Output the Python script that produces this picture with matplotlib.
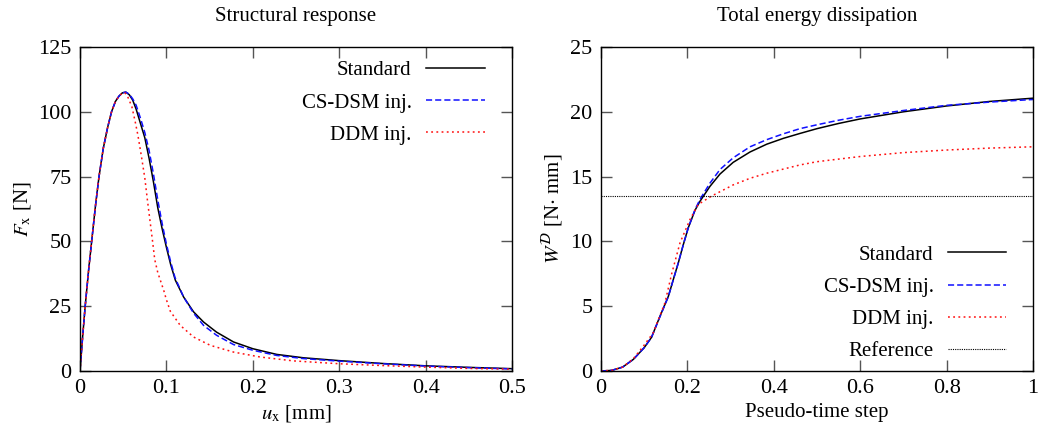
import matplotlib
matplotlib.use("Agg")
import matplotlib.pyplot as plt

plt.rcParams['font.family'] = ['Liberation Serif', 'DejaVu Serif']
plt.rcParams['mathtext.fontset'] = 'stix'
plt.rcParams['font.size'] = 15

# structural response (force vs displacement)
ux_std = [0, 0.003, 0.006, 0.01, 0.0135, 0.018, 0.022, 0.027, 0.032, 0.0365, 0.041, 0.045,
          0.049, 0.053, 0.057, 0.061, 0.065, 0.07, 0.075, 0.08, 0.085, 0.09, 0.095, 0.1,
          0.105, 0.1104, 0.12, 0.1315, 0.143, 0.158, 0.1777, 0.2, 0.2277, 0.2585, 0.3,
          0.35, 0.4, 0.45, 0.5]
fx_std = [0, 13, 25, 39, 50, 64, 75, 86, 94, 100, 104, 106, 107.3, 107.6, 106.6, 104.5, 101,
          95.5, 90, 82, 73, 63, 55, 47.7, 41, 35, 28.5, 22.8, 18.9, 15.0, 11.2, 8.6, 6.4,
          5.1, 4.0, 2.9, 2.0, 1.4, 0.9]

ux_cs = [0, 0.003, 0.006, 0.01, 0.0135, 0.018, 0.022, 0.027, 0.032, 0.0365, 0.041, 0.045,
         0.049, 0.053, 0.057, 0.061, 0.065, 0.07, 0.075, 0.08, 0.085, 0.09, 0.095, 0.1,
         0.105, 0.11, 0.12, 0.1315, 0.143, 0.158, 0.1777, 0.2, 0.2277, 0.2585, 0.3,
         0.35, 0.4, 0.45, 0.5]
fx_cs = [0, 13, 25, 39, 50, 64, 75, 86, 94, 100, 104, 106, 107.3, 107.6, 106.8, 105, 102.5,
         97.5, 92, 85, 76, 66, 57, 49, 42, 36, 28.5, 22.3, 17.6, 13.8, 10.2, 8.0, 6.0,
         4.8, 3.8, 2.8, 1.9, 1.3, 0.8]

ux_ddm = [0, 0.003, 0.006, 0.01, 0.0135, 0.018, 0.022, 0.027, 0.032, 0.0365, 0.041, 0.045,
          0.049, 0.052, 0.055, 0.06, 0.064, 0.067, 0.071, 0.075, 0.078, 0.081, 0.084,
          0.0865, 0.09, 0.094, 0.097, 0.1, 0.1046, 0.116, 0.1315, 0.1508, 0.1777, 0.2085,
          0.247, 0.3, 0.35, 0.4, 0.45, 0.5]
fx_ddm = [0, 13, 25, 39, 50, 64, 75, 86, 94, 100, 104, 106, 107.2, 107.3, 106, 102, 96, 91,
          83, 74.5, 66, 58, 50, 43, 38, 34, 31, 27.5, 23, 17.6, 13.1, 9.9, 7.3, 5.4, 3.9,
          2.8, 2.1, 1.5, 1.0, 0.7]

# total energy dissipation
t_std = [0, 0.025, 0.05, 0.075, 0.1, 0.117, 0.1366, 0.156, 0.1674, 0.179, 0.1906, 0.202,
         0.2176, 0.2292, 0.2523, 0.2755, 0.306, 0.345, 0.3836, 0.422, 0.4606, 0.5, 0.55,
         0.6, 0.7, 0.8, 0.9, 1.0]
w_std = [0, 0.05, 0.3, 0.9, 1.8, 2.6, 4.23, 5.77, 7.06, 8.35, 9.76, 11.05, 12.4, 13.1, 14.25,
         15.2, 16.1, 16.9, 17.5, 17.95, 18.33, 18.7, 19.1, 19.45, 20.0, 20.45, 20.8, 21.05]
w_cs = [0, 0.05, 0.3, 0.9, 1.8, 2.6, 4.2, 5.75, 7.05, 8.35, 9.76, 11.05, 12.45, 13.25, 14.5,
        15.55, 16.45, 17.3, 17.85, 18.3, 18.7, 19.0, 19.35, 19.65, 20.1, 20.5, 20.75, 20.95]
t_ddm = [0, 0.025, 0.05, 0.075, 0.1, 0.121, 0.148, 0.1636, 0.183, 0.206, 0.225, 0.256, 0.291,
         0.306, 0.345, 0.3836, 0.4606, 0.5, 0.6, 0.7, 0.8, 0.9, 1.0]
w_ddm = [0, 0.05, 0.3, 0.95, 2.0, 2.95, 5.26, 7.5, 9.9, 11.69, 12.85, 13.5, 14.1, 14.36, 14.87,
         15.26, 15.9, 16.15, 16.55, 16.85, 17.05, 17.2, 17.3]
w_ref = 13.5

x1_ticks = [0, 0.1, 0.2, 0.3, 0.4, 0.5]
x1_labels = ['0', '0.1', '0.2', '0.3', '0.4', '0.5']
y1_ticks = [0, 25, 50, 75, 100, 125]
x2_ticks = [0, 0.2, 0.4, 0.6, 0.8, 1.0]
x2_labels = ['0', '0.2', '0.4', '0.6', '0.8', '1']
y2_ticks = [0, 5, 10, 15, 20, 25]

fig = plt.figure(figsize=(10.42, 4.3), dpi=100)
ax1 = fig.add_axes([80 / 1042, 59 / 430, 432 / 1042, 324 / 430])
ax2 = fig.add_axes([601 / 1042, 59 / 430, 432 / 1042, 324 / 430])


def style(ax):
    ax.tick_params(direction='in', length=8, width=1, color='#555555', top=True, right=True,
                   labelsize=16, pad=6)
    for s in ax.spines.values():
        s.set_linewidth(1.0)


ax1.plot(ux_std, fx_std, color='black', lw=1.1, label='Standard')
ax1.plot(ux_cs, fx_cs, color='#1010ff', lw=1.1, dashes=(4, 2), label='CS-DSM inj.')
ax1.plot(ux_ddm, fx_ddm, color='#ff1010', lw=1.1, dashes=(1.2, 2.2), label='DDM inj.')
ax1.set_xlim(0, 0.5)
ax1.set_ylim(0, 125)
ax1.set_xticks(x1_ticks, x1_labels)
ax1.set_yticks(y1_ticks)
ax1.set_xlabel(r'$u_{\mathrm{x}}$ [mm]', labelpad=3)
ax1.set_ylabel(r'$F_{\mathrm{x}}$ [N]', labelpad=4)
ax1.set_title('Structural response', fontsize=15, pad=19)
style(ax1)
ax1.legend(loc='upper right', bbox_to_anchor=(0.98, 1.015), frameon=False, markerfirst=False,
           handlelength=2.8, handletextpad=0.7, labelspacing=0.6, fontsize=15)

ax2.plot(t_std, w_std, color='black', lw=1.1, label='Standard')
ax2.plot(t_std, w_cs, color='#1010ff', lw=1.1, dashes=(4, 2), label='CS-DSM inj.')
ax2.plot(t_ddm, w_ddm, color='#ff1010', lw=1.1, dashes=(1.2, 2.2), label='DDM inj.')
ax2.axhline(w_ref, color='black', lw=0.8, dashes=(1, 1), label='Reference')
ax2.set_xlim(0, 1)
ax2.set_ylim(0, 25)
ax2.set_xticks(x2_ticks, x2_labels)
ax2.set_yticks(y2_ticks)
ax2.set_xlabel('Pseudo-time step', labelpad=3)
ax2.set_ylabel(r'$W^{\mathcal{D}}$ [N$\cdot$ mm]', labelpad=4)
ax2.set_title('Total energy dissipation', fontsize=15, pad=19)
style(ax2)
ax2.legend(loc='lower right', bbox_to_anchor=(0.982, -0.027), frameon=False, markerfirst=False,
           handlelength=2.8, handletextpad=0.7, labelspacing=0.6, fontsize=15)

fig.savefig('out.png', dpi=100)
